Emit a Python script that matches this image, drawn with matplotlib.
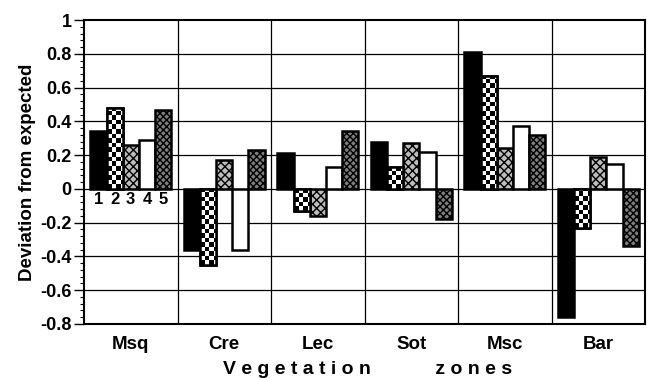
import numpy as np
import matplotlib
matplotlib.use("Agg")
from matplotlib import pyplot as plt
from matplotlib.ticker import MultipleLocator

zones = ["Msq", "Cre", "Lec", "Sot", "Msc", "Bar"]
bar_ids = ["1", "2", "3", "4", "5"]
# deviation from expected, one list per bar type (1..5), in zone order
s1 = [0.34, -0.36, 0.21, 0.28, 0.81, -0.76]
s2 = [0.48, -0.45, -0.13, 0.13, 0.67, -0.23]
s3 = [0.26, 0.17, -0.16, 0.27, 0.24, 0.19]
s4 = [0.29, -0.36, 0.13, 0.22, 0.37, 0.15]
s5 = [0.47, 0.23, 0.34, -0.18, 0.32, -0.34]
series = [s1, s2, s3, s4, s5]

plt.rcParams['font.family'] = ['Liberation Sans', 'DejaVu Sans']
plt.rcParams['hatch.color'] = 'white'

fig = plt.figure(figsize=(6.51, 3.78), dpi=100)
ax = fig.add_axes([0.129, 0.143, 0.862, 0.804])

x = np.arange(len(zones))
w = 0.1726
faces = ["black", "white", "#bdbdbd", "white", "#7e7e7e"]
hatches = [None, None, "xxxx", None, "xxxxx"]

bars_all = []
for i, vals in enumerate(series):
    off = (i - 2) * w
    b = ax.bar(x + off, vals, w, facecolor=faces[i], edgecolor="black",
               linewidth=1.8, hatch=hatches[i], zorder=3)
    bars_all.append(b)

# checkerboard fill for bar type 2
cw, ch = w / 3.6, 0.027
for p in bars_all[1]:
    x0, y0 = p.get_x(), min(p.get_y(), p.get_y() + p.get_height())
    hgt = abs(p.get_height())
    nx = int(np.ceil(w / cw)) + 1
    ny = int(np.ceil(hgt / ch)) + 1
    board = (np.add.outer(np.arange(ny), np.arange(nx)) % 2).astype(float)
    im = ax.imshow(board, cmap="gray", vmin=0, vmax=1, interpolation="nearest",
                   extent=(x0, x0 + nx * cw, y0, y0 + ny * ch), origin="lower",
                   aspect="auto", zorder=3.5)
    im.set_clip_path(p)
    edge = plt.Rectangle((p.get_x(), p.get_y()), p.get_width(), p.get_height(),
                         fill=False, edgecolor="black", linewidth=1.8, zorder=4)
    ax.add_patch(edge)

# bar numbers under first group
for i, lab in enumerate(bar_ids):
    ax.text(x[0] + (i - 2) * w, -0.02, lab, ha="center", va="top",
            fontsize=12, fontweight="bold", zorder=5)

ax.set_xlim(-0.5, len(zones) - 0.5)
ax.set_ylim(-0.8, 1.0)
ax.yaxis.set_major_locator(MultipleLocator(0.2))
ax.yaxis.set_minor_locator(MultipleLocator(0.04))
ax.set_yticklabels([("%g" % v) for v in ax.get_yticks()])
ax.set_xticks(x)
ax.set_xticklabels(zones, fontsize=13.5, fontweight="bold")
ax.tick_params(axis="x", length=0, pad=9)
ax.tick_params(axis="y", which="major", length=7, width=1, labelsize=13, pad=2)
ax.tick_params(axis="y", which="minor", length=3, width=0.8)
for t in ax.get_yticklabels():
    t.set_fontweight("bold")

for v in np.arange(-0.6, 1.0, 0.2):
    ax.axhline(v, color="black", linewidth=0.9, zorder=1)
for xv in x[:-1] + 0.5:
    ax.axvline(xv, color="black", linewidth=0.9, zorder=1)
for s in ax.spines.values():
    s.set_linewidth(1.5)

ax.set_ylabel("Deviation from expected", fontsize=13.5, fontweight="bold", labelpad=3)
fig.text(0.564, 0.001, "V e g e t a t i o n            z o n e s", fontsize=14,
         fontweight="bold", ha="center", va="bottom")

fig.savefig("out.png", dpi=100)
